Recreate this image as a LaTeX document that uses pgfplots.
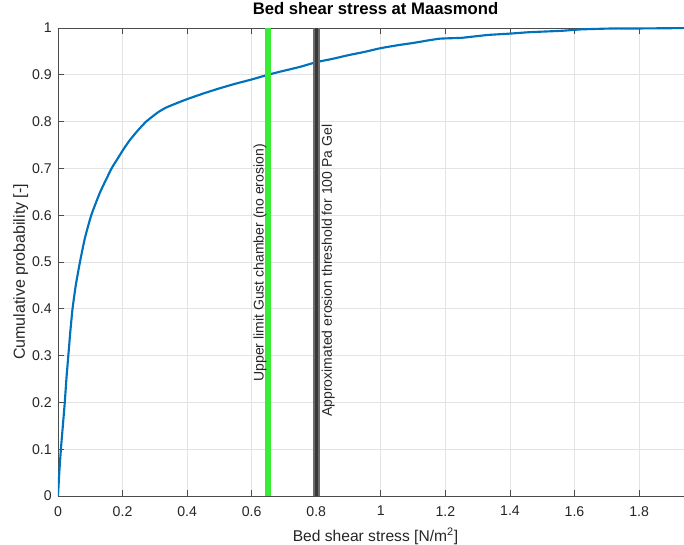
\documentclass[border=0pt]{standalone}
\usepackage{fontspec}
\setmainfont{Liberation Sans}
\usepackage{pgfplots}
\pgfplotsset{compat=1.18}
\definecolor{mblue}{rgb}{0,0.447,0.741}
\definecolor{mgreen}{rgb}{0.22,0.93,0.22}
\definecolor{mgrayout}{rgb}{0.42,0.42,0.42}
\definecolor{mgrayin}{rgb}{0.22,0.22,0.22}
\definecolor{axcol}{rgb}{0.3,0.3,0.3}
\definecolor{txtcol}{rgb}{0.15,0.15,0.15}
\begin{document}
\begin{tikzpicture}
\begin{axis}[
  name=ax,
  scale only axis,
  width=476.25pt, height=351pt,
  xmin=0, xmax=1.967, ymin=0, ymax=1,
  xtick={0,0.2,0.4,0.6,0.8,1,1.2,1.4,1.6,1.8},
  ytick={0,0.1,0.2,0.3,0.4,0.5,0.6,0.7,0.8,0.9,1},
  /pgf/number format/assume math mode=true,
  grid=major,
  grid style={color=black!11, line width=0.5pt},
  axis line style={color=axcol, line width=0.6pt},
  tick style={color=axcol, line width=0.6pt},
  tick align=inside,
  major tick length=4.5pt,
  ticklabel style={font=\fontsize{10.6}{12}\selectfont, color=txtcol, inner sep=0pt},
  xticklabel shift=7.5pt,
  yticklabel shift=4.5pt,
  xlabel={Bed shear stress [N/m\textsuperscript{2}]},
  ylabel={Cumulative probability [-]},
  title={Bed shear stress at Maasmond},
  xlabel style={at={(axis description cs:0.5,-0.0962)}, anchor=base, inner sep=0pt, font=\fontsize{11.7}{13}\selectfont, color=txtcol},
  ylabel style={at={(axis description cs:-0.052,0.479)}, anchor=base, inner sep=0pt, font=\fontsize{12}{13}\selectfont, color=txtcol},
  title style={at={(axis description cs:0.5,1.0114)}, anchor=base, inner sep=0pt, font=\fontsize{12.5}{14}\selectfont\bfseries, color=black},
]
\addplot[mblue, line width=1.6pt, smooth, tension=0.3] coordinates {
(0,0) (0.004,0.05) (0.009,0.1) (0.015,0.15) (0.021,0.2) (0.026,0.25) (0.032,0.3) (0.038,0.35) (0.045,0.4)
(0.055,0.45) (0.068,0.5) (0.083,0.55) (0.103,0.6) (0.131,0.65) (0.166,0.7) (0.184,0.72) (0.202,0.74)
(0.222,0.76) (0.246,0.78) (0.273,0.80) (0.310,0.82) (0.335,0.83) (0.370,0.84) (0.40,0.848) (0.45,0.86)
(0.50,0.871) (0.55,0.881) (0.60,0.890) (0.65,0.900) (0.69,0.907) (0.75,0.917) (0.80,0.927)
(0.85,0.934) (0.90,0.942) (0.95,0.949) (1.00,0.957) (1.06,0.964) (1.10,0.968)
(1.18,0.977) (1.25,0.979) (1.33,0.985) (1.40,0.988) (1.46,0.991) (1.56,0.994)
(1.62,0.997) (1.72,0.999) (1.80,0.999) (1.967,1.0)
};
\addplot[mgreen, line width=4pt] coordinates {(0.65,0) (0.65,1)};
\addplot[mgrayout, line width=5pt] coordinates {(0.80,0) (0.80,1)};
\addplot[mgrayin, line width=2pt] coordinates {(0.80,0) (0.80,1)};
\node[rotate=90, anchor=base west, inner sep=0pt, font=\fontsize{10.5}{12}\selectfont, color=txtcol] at (axis cs:0.637,0.244) {Upper limit Gust chamber (no erosion)};
\node[rotate=90, anchor=base west, inner sep=0pt, font=\fontsize{10.5}{12}\selectfont, color=txtcol] at (axis cs:0.848,0.169) {Approximated erosion threshold for 100 Pa Gel};
\end{axis}
\pgfresetboundingbox
\path[use as bounding box] ([xshift=-43.5pt,yshift=-36.75pt]ax.south west) rectangle ([xshift=469.5pt,yshift=21pt]ax.north west);
\end{tikzpicture}
\end{document}
